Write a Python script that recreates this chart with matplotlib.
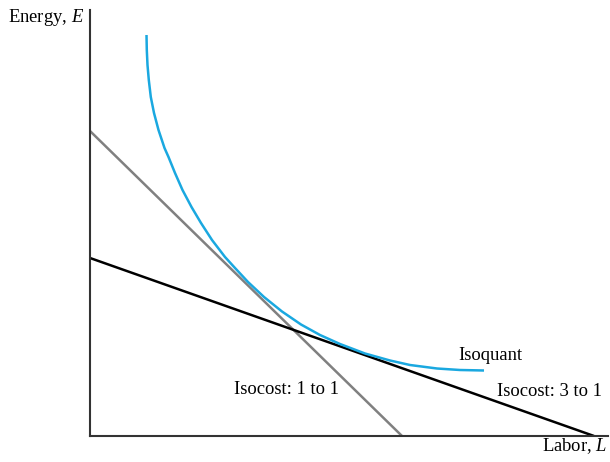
import matplotlib
matplotlib.use("Agg")
import matplotlib.pyplot as plt

plt.rcParams['font.family'] = ['Liberation Serif', 'DejaVu Serif']
plt.rcParams['mathtext.fontset'] = 'custom'
plt.rcParams['mathtext.rm'] = 'Liberation Serif'
plt.rcParams['mathtext.it'] = 'Liberation Serif:italic'

# Isoquant (labor, energy)
iso_L = [5.65, 5.68, 5.75, 5.88, 6.08, 6.4, 6.85, 7.45, 7.85, 8.5, 9.25, 10.15, 11.1, 12.2,
         13.5, 14.5, 15.8, 17.4, 19.2, 21.1, 23.0, 25.0, 27.5, 30.0, 32.0, 34.7, 37.0, 39.4]
iso_E = [40.1, 38.6, 37.1, 35.6, 33.9, 32.3, 30.6, 28.8, 27.9, 26.3, 24.6, 22.9, 21.3, 19.6,
         17.9, 16.8, 15.4, 13.9, 12.45, 11.15, 10.1, 9.2, 8.25, 7.55, 7.1, 6.75, 6.6, 6.55]

# Isocost lines: (L intercept, E intercept)
cost11_L = [0, 31.2]
cost11_E = [30.5, 0]
cost31_L = [0, 50.4]
cost31_E = [17.8, 0]

W, H = 610, 462
fig = plt.figure(figsize=(W / 100, H / 100), dpi=100)
ax = fig.add_axes([90 / W, 26 / H, 518 / W, 426 / H])
ax.set_xlim(0, 51.8)
ax.set_ylim(0, 42.6)
for s in ['top', 'right']:
    ax.spines[s].set_visible(False)
for s in ['left', 'bottom']:
    ax.spines[s].set_color('#333333')
    ax.spines[s].set_linewidth(1.5)
ax.set_xticks([])
ax.set_yticks([])

ax.plot(cost11_L, cost11_E, color='#808080', lw=1.8, solid_capstyle='butt')
ax.plot(cost31_L, cost31_E, color='black', lw=1.8, solid_capstyle='butt')
ax.plot(iso_L, iso_E, color='#1aa8e0', lw=1.8, solid_capstyle='butt',
        solid_joinstyle='round')

fs = 13.4
def ft(x, y, s, ha='left'):
    fig.text(x / W, 1 - y / H, s, ha=ha, va='center', fontsize=fs)

ft(8, 17, 'Energy, $E$')
ft(607, 446, 'Labor, $L$', ha='right')
ft(458, 355, 'Isoquant')
ft(234, 390, 'Isocost: 1 to 1')
ft(497, 392, 'Isocost: 3 to 1')

fig.savefig('out.png', dpi=100)
